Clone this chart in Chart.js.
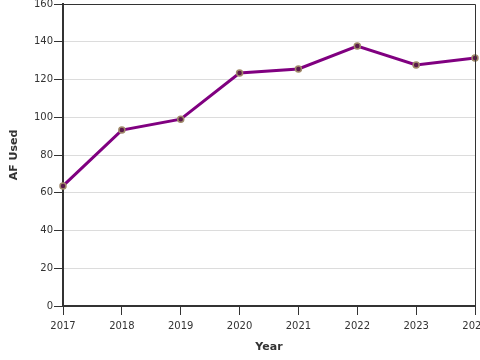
<!DOCTYPE html>
<html><head><meta charset="utf-8">
<script src="https://cdn.jsdelivr.net/npm/chart.js@4/dist/chart.umd.min.js"></script>
<style>html,body{margin:0;padding:0;background:#fff}#wrap{width:480px;height:360px}</style>
</head><body><div id="wrap"><canvas id="c" width="480" height="360"></canvas></div>
<script>
const years = ['2017','2018','2019','2020','2021','2022','2023','2024'];
const afUsed = [63.6, 93.2, 99.0, 123.4, 125.6, 137.7, 127.7, 131.4];
const yTicks = [0,20,40,60,80,100,120,140,160];

const frame = {
  id:'frame',
  afterDatasetsDraw(chart){
    const {ctx, chartArea:a} = chart;
    ctx.save();
    ctx.strokeStyle='#333'; ctx.lineWidth=1;
    ctx.beginPath();
    ctx.moveTo(a.left, a.top+0.5); ctx.lineTo(a.right+0.5, a.top+0.5); ctx.lineTo(a.right+0.5, a.bottom);
    ctx.stroke();
    ctx.restore();
  }
};

new Chart(document.getElementById('c'), {
  type:'line',
  data:{labels:years, datasets:[{
    data:afUsed, borderColor:'#800080', borderWidth:3, tension:0,
    pointRadius:3, pointBackgroundColor:'#5a1a4a', pointBorderColor:'#a08a6a', pointBorderWidth:1.5,
    clip:false
  }]},
  options:{
    responsive:false, animation:false,
    layout:{autoPadding:false, padding:{top:4,right:5,left:0,bottom:0}},
    plugins:{legend:{display:false}, tooltip:{enabled:false}},
    scales:{
      x:{
        type:'category', offset:false,
        grid:{drawOnChartArea:false, drawTicks:true, tickLength:9, tickColor:'#333'},
        border:{display:true, color:'#333', width:2},
        ticks:{color:'#333', font:{family:'DejaVu Sans', size:10}, padding:5, maxRotation:0, autoSkip:false},
        title:{display:true, text:'Year', color:'#333', font:{family:'DejaVu Sans', size:11, weight:'bold'}, padding:{top:4,bottom:6}},
        afterFit(s){ s.height = 54; s.paddingLeft = 0; s.paddingRight = 0; }
      },
      y:{
        min:0, max:160,
        afterBuildTicks(s){ s.ticks = yTicks.map(v=>({value:v})); },
        grid:{color:'#dcdcdc', lineWidth:1, drawTicks:true, tickLength:9, tickColor:'#333'},
        border:{display:true, color:'#333', width:2},
        ticks:{color:'#333', font:{family:'DejaVu Sans', size:10}, padding:1},
        title:{display:true, text:'AF Used', color:'#333', font:{family:'DejaVu Sans', size:11, weight:'bold'}, padding:{top:8,bottom:4}},
        afterFit(s){ s.width = 63; s.paddingTop = 0; s.paddingBottom = 0; }
      }
    }
  },
  plugins:[frame]
});
</script></body></html>
